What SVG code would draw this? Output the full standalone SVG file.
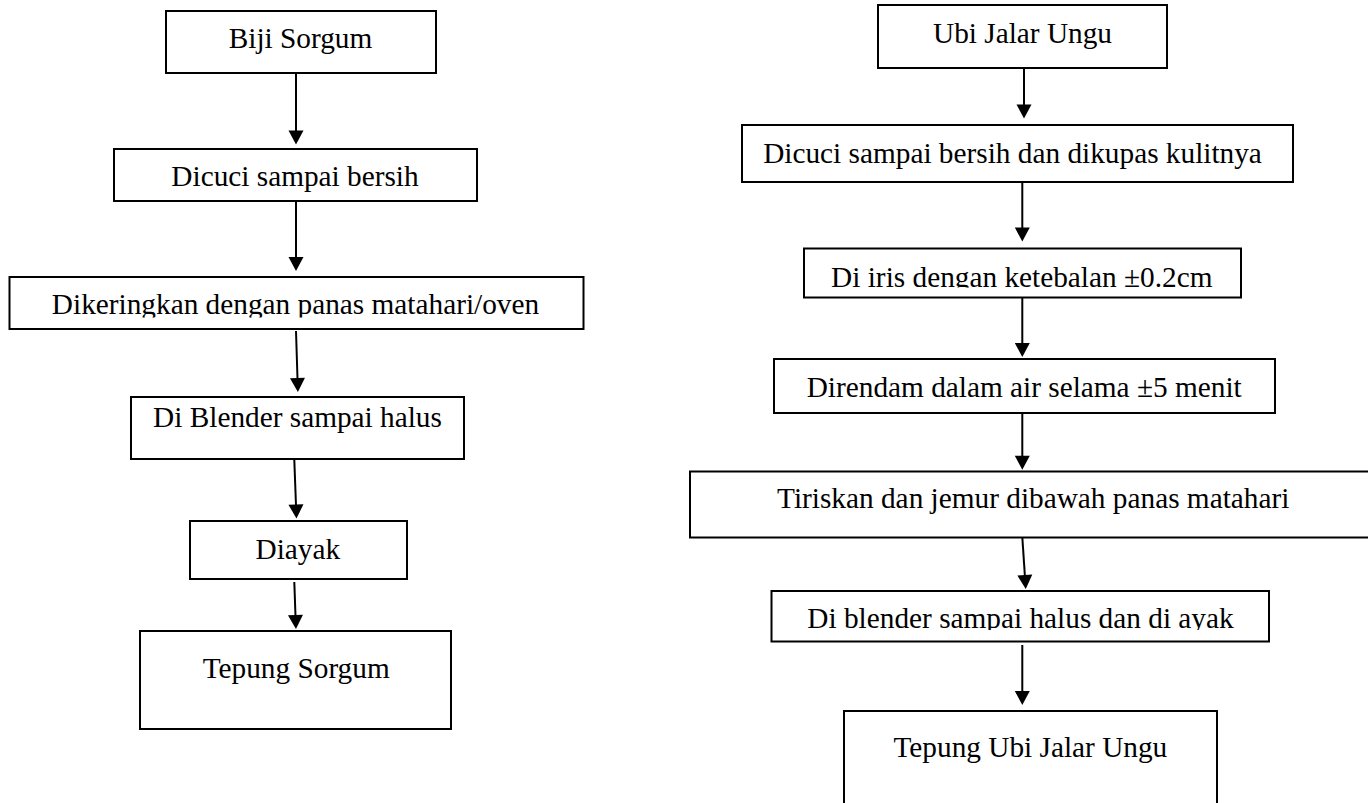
<svg xmlns="http://www.w3.org/2000/svg" width="1368" height="803" viewBox="0 0 1368 803">
<style>
.box{fill:#fff;stroke:#000;stroke-width:2}
.t{font-family:"Liberation Serif","Times New Roman",serif;font-size:29.3px;fill:#000;text-anchor:middle}
.c{stroke:#000;stroke-width:2;fill:none;marker-end:url(#ah)}
</style>
<defs>
<marker id="ah" markerUnits="userSpaceOnUse" markerWidth="16" markerHeight="16" refX="1" refY="7.5" orient="auto" overflow="visible">
<path d="M0,0 L14,7.5 L0,15 Z" fill="#000"/>
</marker>
<clipPath id="clipL3"><rect x="0" y="270" width="600" height="47.5"/></clipPath>
<clipPath id="clipR3"><rect x="790" y="240" width="470" height="47.5"/></clipPath>
<clipPath id="clipR6"><rect x="760" y="585" width="520" height="45"/></clipPath>
</defs>
<rect width="1368" height="803" fill="#fff"/>
<g id="connectors">
<line class="c" x1="296" y1="72" x2="296" y2="131.5"/>
<line class="c" x1="296" y1="202" x2="296" y2="258"/>
<line class="c" x1="296" y1="331" x2="297.5" y2="379"/>
<line class="c" x1="294.3" y1="460" x2="296" y2="505.5"/>
<line class="c" x1="294.3" y1="582" x2="295.5" y2="616"/>
<line class="c" x1="1024" y1="66" x2="1024" y2="105.5"/>
<line class="c" x1="1022.3" y1="182" x2="1022.3" y2="228.5"/>
<line class="c" x1="1022.3" y1="298" x2="1022.3" y2="344"/>
<line class="c" x1="1022.3" y1="413" x2="1022.3" y2="456.7"/>
<line class="c" x1="1022.3" y1="537" x2="1024.9" y2="576"/>
<line class="c" x1="1022.3" y1="645" x2="1022.3" y2="692"/>
</g>
<g id="biji-sorgum"><rect class="box" x="166" y="11" width="270" height="62"/><text class="t" x="300.5" y="48.3">Biji Sorgum</text></g>
<g id="dicuci-sorgum"><rect class="box" x="114" y="149" width="363" height="52"/><text class="t" x="295" y="186">Dicuci sampai bersih</text></g>
<g id="dikeringkan"><rect class="box" x="9.5" y="277" width="574" height="52"/><text class="t" x="295.5" y="314" clip-path="url(#clipL3)">Dikeringkan dengan panas matahari/oven</text></g>
<g id="di-blender-sorgum"><rect class="box" x="131" y="397" width="333" height="62"/><text class="t" x="297.5" y="426.7">Di Blender sampai halus</text></g>
<g id="diayak"><rect class="box" x="190" y="521" width="217" height="58"/><text class="t" x="297.8" y="559.3">Diayak</text></g>
<g id="tepung-sorgum"><rect class="box" x="140" y="631" width="311" height="98"/><text class="t" x="296.2" y="678">Tepung Sorgum</text></g>
<g id="ubi-jalar-ungu"><rect class="box" x="878" y="5" width="289" height="63"/><text class="t" x="1022.5" y="42.7">Ubi Jalar Ungu</text></g>
<g id="dicuci-ubi"><rect class="box" x="742" y="125" width="551" height="57"/><text class="t" x="1012.5" y="162.7">Dicuci sampai bersih dan dikupas kulitnya</text></g>
<g id="di-iris"><rect class="box" x="804" y="248.5" width="437" height="49"/><text class="t" x="1021.8" y="286.5" clip-path="url(#clipR3)">Di iris dengan ketebalan ±0.2cm</text></g>
<g id="direndam"><rect class="box" x="774" y="359" width="501" height="54"/><text class="t" x="1024.2" y="396.7">Direndam dalam air selama ±5 menit</text></g>
<g id="tiriskan"><rect class="box" x="690" y="471.5" width="700" height="66"/><text class="t" x="1033.2" y="508.3">Tiriskan dan jemur dibawah panas matahari</text></g>
<g id="di-blender-ubi"><rect class="box" x="771.5" y="591" width="497.5" height="50.5"/><text class="t" x="1020.5" y="628" clip-path="url(#clipR6)">Di blender sampai halus dan di ayak</text></g>
<g id="tepung-ubi"><rect class="box" x="844" y="711" width="373" height="120"/><text class="t" x="1030.4" y="756.7">Tepung Ubi Jalar Ungu</text></g>
</svg>
